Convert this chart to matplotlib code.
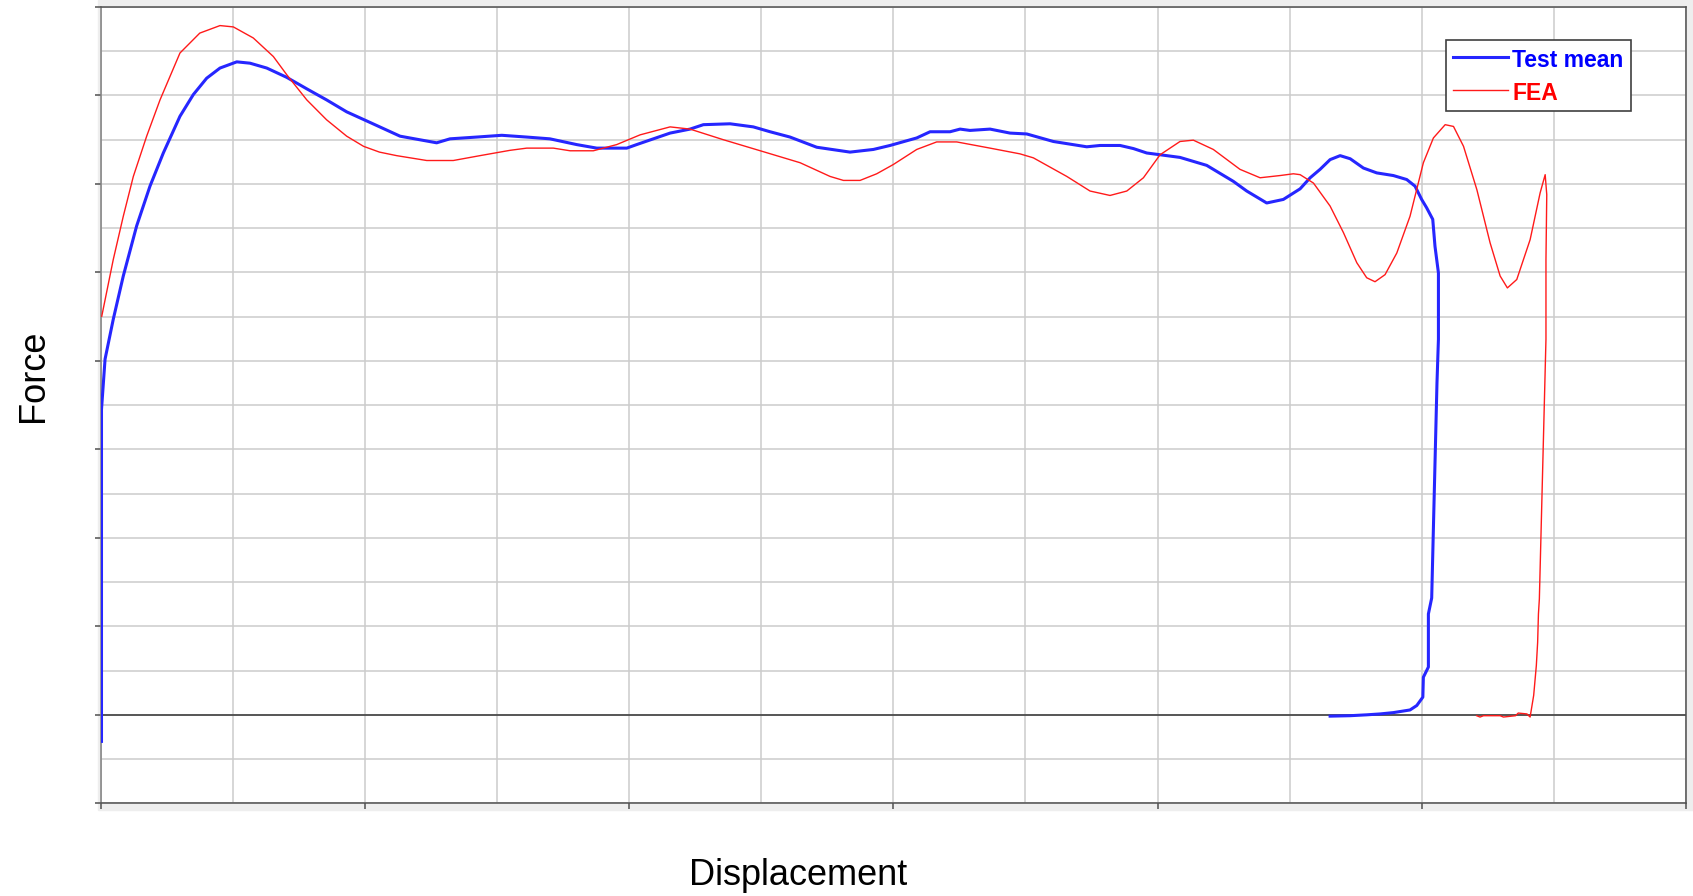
import matplotlib
matplotlib.use("Agg")
import matplotlib.pyplot as plt
from matplotlib.patches import Rectangle
from matplotlib.ticker import MultipleLocator

plt.rcParams["font.family"] = ["Liberation Sans", "DejaVu Sans"]

# test mean curve (displacement, force) in grid units
test_x = [0.006, 0.006, 0.033, 0.095, 0.171, 0.272, 0.373, 0.474, 0.600, 0.701,
          0.802, 0.903, 1.030, 1.130, 1.257, 1.408, 1.560, 1.710, 1.862, 2.039,
          2.266, 2.543, 2.644, 2.846, 3.036, 3.225, 3.400, 3.603, 3.755, 3.982,
          4.057, 4.310, 4.461, 4.562, 4.764, 4.940, 5.067, 5.218, 5.420, 5.672,
          5.849, 5.975, 6.177, 6.278, 6.429, 6.505, 6.580, 6.732, 6.883, 7.010,
          7.211, 7.464, 7.565, 7.716, 7.817, 7.918, 8.019, 8.170, 8.372, 8.573,
          8.675, 8.826, 8.952, 9.079, 9.155, 9.230, 9.306, 9.382, 9.458, 9.558,
          9.659, 9.785, 9.886, 9.949, 9.999, 10.037, 10.083, 10.100, 10.126, 10.126,
          10.115, 10.090, 10.075, 10.050, 10.050, 10.012, 10.008, 9.962, 9.911, 9.785,
          9.684, 9.583, 9.457, 9.306]
test_y = [-0.60, 6.90, 8.04, 8.94, 9.92, 11.05, 11.95, 12.70, 13.53, 14.02,
          14.39, 14.62, 14.76, 14.73, 14.62, 14.41, 14.15, 13.90, 13.63, 13.39,
          13.08, 12.93, 13.02, 13.06, 13.10, 13.06, 13.02, 12.89, 12.81, 12.81,
          12.89, 13.15, 13.24, 13.34, 13.36, 13.29, 13.18, 13.06, 12.83, 12.72,
          12.78, 12.87, 13.04, 13.18, 13.18, 13.24, 13.21, 13.24, 13.15, 13.13,
          12.96, 12.84, 12.87, 12.87, 12.80, 12.70, 12.66, 12.60, 12.42, 12.06,
          11.84, 11.57, 11.65, 11.89, 12.14, 12.33, 12.55, 12.64, 12.57, 12.36,
          12.25, 12.19, 12.10, 11.95, 11.65, 11.46, 11.20, 10.59, 9.99, 8.49,
          7.50, 4.47, 2.64, 2.28, 1.08, 0.85, 0.40, 0.21, 0.11, 0.05,
          0.02, 0.00, -0.02, -0.03]

# FEA curve
fea_x = [0.008, 0.095, 0.171, 0.247, 0.348, 0.449, 0.600, 0.750, 0.903, 1.004,
         1.155, 1.307, 1.408, 1.560, 1.710, 1.862, 1.990, 2.110, 2.240, 2.468,
         2.669, 2.871, 3.098, 3.225, 3.426, 3.553, 3.729, 3.906, 4.083, 4.310,
         4.461, 4.713, 5.004, 5.294, 5.521, 5.622, 5.748, 5.874, 6.000, 6.177,
         6.328, 6.480, 6.732, 6.959, 7.060, 7.313, 7.489, 7.640, 7.767, 7.893,
         8.019, 8.170, 8.271, 8.422, 8.624, 8.776, 8.927, 9.028, 9.079, 9.180,
         9.306, 9.407, 9.508, 9.583, 9.646, 9.722, 9.811, 9.911, 10.012, 10.088,
         10.177, 10.240, 10.316, 10.417, 10.517, 10.593, 10.648, 10.719, 10.820, 10.896,
         10.934, 10.946, 10.940, 10.940, 10.890, 10.883, 10.877, 10.867, 10.847, 10.820,
         10.796, 10.730, 10.710, 10.618, 10.593, 10.467, 10.441, 10.416]
fea_y = [9.01, 10.29, 11.27, 12.17, 13.08, 13.90, 14.96, 15.41, 15.58, 15.55,
         15.30, 14.88, 14.47, 13.90, 13.45, 13.08, 12.85, 12.72, 12.64, 12.53,
         12.53, 12.64, 12.76, 12.81, 12.81, 12.75, 12.75, 12.89, 13.11, 13.29,
         13.24, 13.00, 12.74, 12.48, 12.17, 12.08, 12.08, 12.23, 12.44, 12.78,
         12.95, 12.95, 12.81, 12.68, 12.59, 12.17, 11.84, 11.74, 11.84, 12.14,
         12.66, 12.96, 12.99, 12.78, 12.33, 12.14, 12.19, 12.23, 12.21, 12.02,
         11.50, 10.90, 10.22, 9.88, 9.79, 9.95, 10.44, 11.27, 12.48, 13.04,
         13.34, 13.30, 12.85, 11.87, 10.67, 9.92, 9.65, 9.84, 10.74, 11.80,
         12.21, 11.76, 10.29, 8.49, 2.62, 2.28, 1.64, 1.11, 0.44, -0.05,
         0.02, 0.04, -0.02, -0.05, -0.02, -0.02, -0.05, -0.02]

W, H = 1693, 896
fig = plt.figure(figsize=(W / 100, H / 100), dpi=100)
fig.add_artist(Rectangle((98 / W, 1 - 810 / H), 1 - 98 / W, 810 / H,
                         transform=fig.transFigure, color="#eeeeee", zorder=-5))

ax = fig.add_axes([100.7 / W, 1 - 803.3 / H, (1686 - 100.7) / W, (803.3 - 7) / H])
ax.set_facecolor("white")
ax.set_xlim(0, 12)
ax.set_ylim(-2, 16)
ax.xaxis.set_major_locator(MultipleLocator(2))
ax.xaxis.set_minor_locator(MultipleLocator(1))
ax.yaxis.set_major_locator(MultipleLocator(2))
ax.yaxis.set_minor_locator(MultipleLocator(1))
ax.grid(which="both", color="#cccccc", lw=1.1)
ax.set_axisbelow(True)
ax.tick_params(which="major", direction="out", length=4, width=1.1, color="#505050",
               labelbottom=False, labelleft=False)
ax.tick_params(which="minor", length=0)
for side, c in [("left", "#808080"), ("bottom", "#505050"), ("top", "#505050"), ("right", "#505050")]:
    ax.spines[side].set_color(c)
    ax.spines[side].set_linewidth(1.1)

ax.axhline(0, color="#404040", lw=1.2, zorder=1.5)

ax.plot(test_x, test_y, color="#2626ff", lw=2.2, label="Test mean", zorder=3)
ax.plot(fea_x, fea_y, color="#ff1a1a", lw=1.0, label="FEA", zorder=3)

leg = ax.legend(loc="upper right", bbox_to_anchor=(0.965, 0.9586), borderaxespad=0,
                prop={"weight": "bold", "size": 16.5}, labelcolor=["#0000ff", "#ff0000"],
                handlelength=2.4, handletextpad=0.2, handleheight=1.25,
                labelspacing=0.35, borderpad=0.3,
                fancybox=False, framealpha=1, edgecolor="#404040")
leg.get_frame().set_linewidth(1.2)

fig.text(798 / W, 1 - 885.3 / H, "Displacement", fontsize=26, ha="center", va="baseline")
fig.text(42.7 / W, 1 - 376 / H, "Force", fontsize=26, ha="center", va="baseline",
         rotation=90, rotation_mode="anchor")

fig.savefig("out.png", dpi=100)
